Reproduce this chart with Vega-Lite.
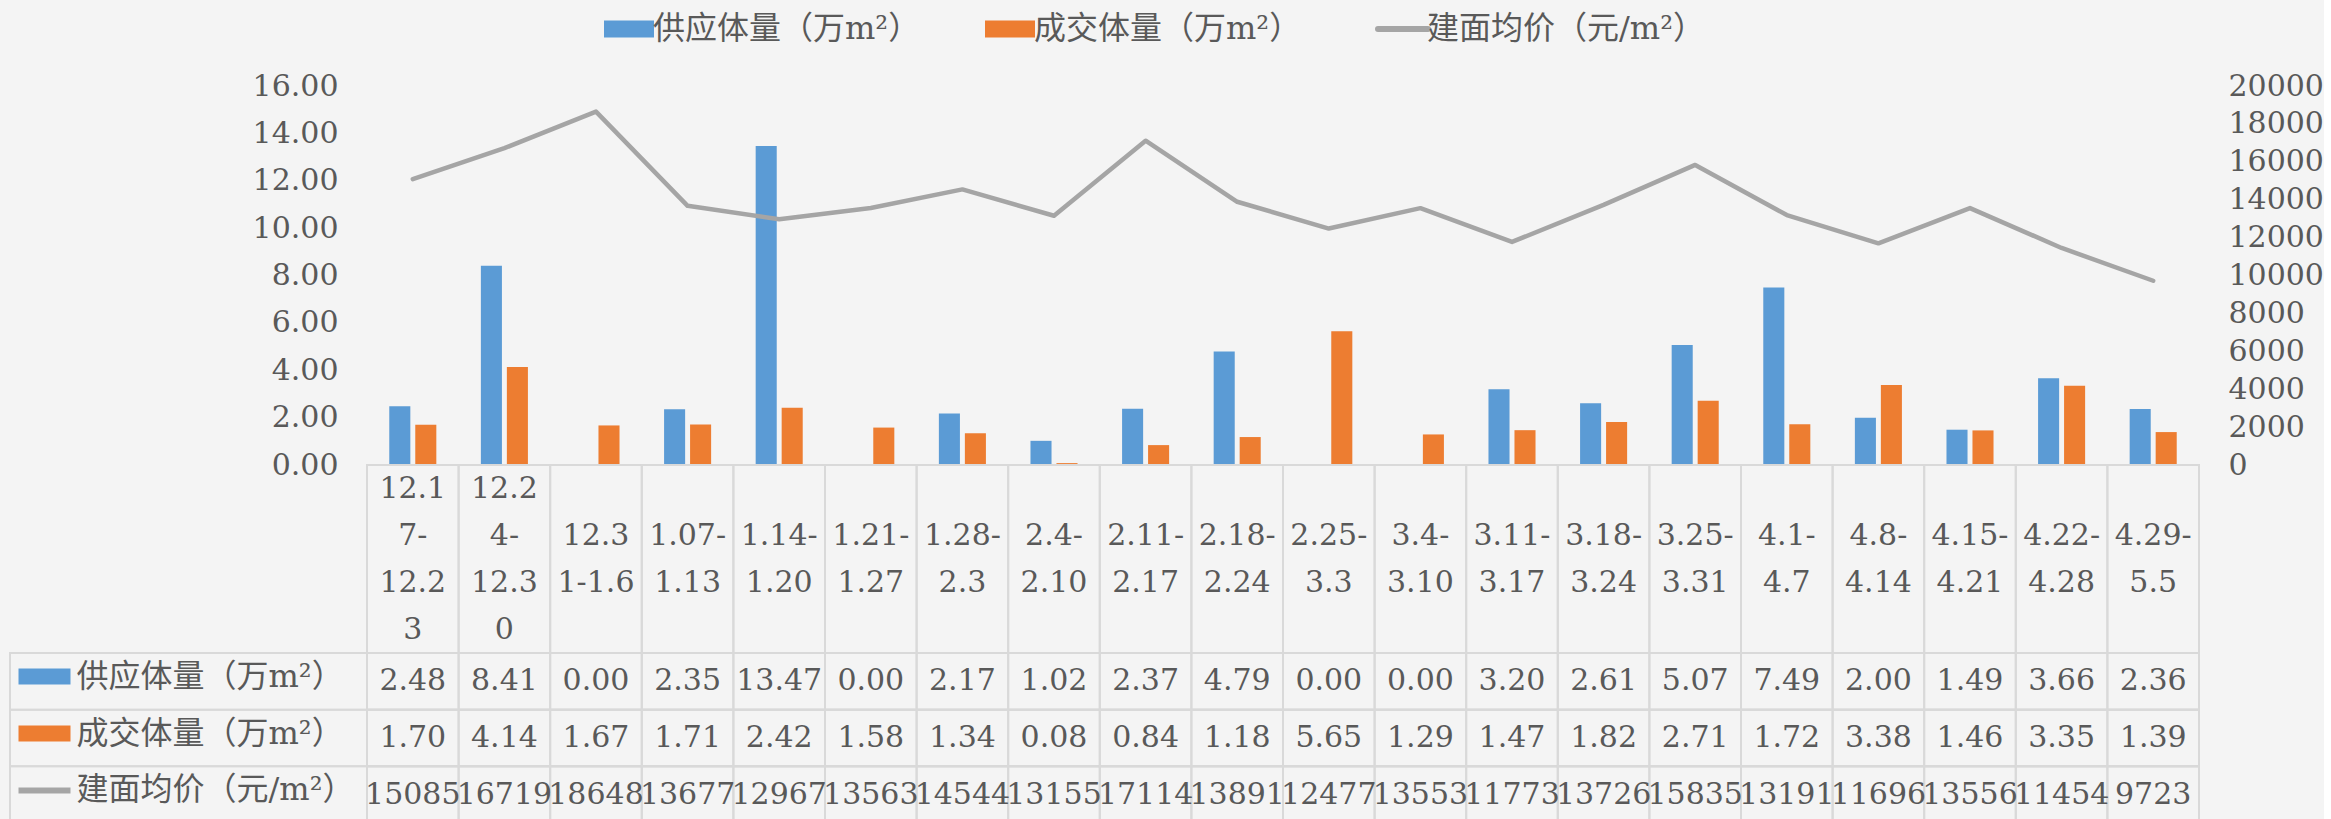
{
  "$schema": "https://vega.github.io/schema/vega-lite/v6.json",
  "background": "#f4f4f4",
  "autosize": {"type": "pad"},
  "padding": {"left": 9, "top": 13, "right": 0, "bottom": 0},
  "config": {
    "view": {"stroke": null},
    "font": "DejaVu Serif",
    "axis": {"labelFont": "DejaVu Serif, Noto Sans CJK SC", "labelColor": "#595959", "labelFontSize": 30},
    "text": {"font": "DejaVu Serif, Noto Sans CJK SC", "fontSize": 30, "color": "#595959"}
  },
  "datasets": {
    "weeks": [
      {"week": "12.17-12.23", "label": "12.1\n7-\n12.2\n3"},
      {"week": "12.24-12.30", "label": "12.2\n4-\n12.3\n0"},
      {"week": "12.31-1.6", "label": "12.3\n1-1.6"},
      {"week": "1.07-1.13", "label": "1.07-\n1.13"},
      {"week": "1.14-1.20", "label": "1.14-\n1.20"},
      {"week": "1.21-1.27", "label": "1.21-\n1.27"},
      {"week": "1.28-2.3", "label": "1.28-\n2.3"},
      {"week": "2.4-2.10", "label": "2.4-\n2.10"},
      {"week": "2.11-2.17", "label": "2.11-\n2.17"},
      {"week": "2.18-2.24", "label": "2.18-\n2.24"},
      {"week": "2.25-3.3", "label": "2.25-\n3.3"},
      {"week": "3.4-3.10", "label": "3.4-\n3.10"},
      {"week": "3.11-3.17", "label": "3.11-\n3.17"},
      {"week": "3.18-3.24", "label": "3.18-\n3.24"},
      {"week": "3.25-3.31", "label": "3.25-\n3.31"},
      {"week": "4.1-4.7", "label": "4.1-\n4.7"},
      {"week": "4.8-4.14", "label": "4.8-\n4.14"},
      {"week": "4.15-4.21", "label": "4.15-\n4.21"},
      {"week": "4.22-4.28", "label": "4.22-\n4.28"},
      {"week": "4.29-5.5", "label": "4.29-\n5.5"}
    ],
    "vals": [
      {"week": "12.17-12.23", "series": "供应体量（万m²）", "value": 2.48},
      {"week": "12.17-12.23", "series": "成交体量（万m²）", "value": 1.70},
      {"week": "12.17-12.23", "series": "建面均价（元/m²）", "value": 15085},
      {"week": "12.24-12.30", "series": "供应体量（万m²）", "value": 8.41},
      {"week": "12.24-12.30", "series": "成交体量（万m²）", "value": 4.14},
      {"week": "12.24-12.30", "series": "建面均价（元/m²）", "value": 16719},
      {"week": "12.31-1.6", "series": "供应体量（万m²）", "value": 0.00},
      {"week": "12.31-1.6", "series": "成交体量（万m²）", "value": 1.67},
      {"week": "12.31-1.6", "series": "建面均价（元/m²）", "value": 18648},
      {"week": "1.07-1.13", "series": "供应体量（万m²）", "value": 2.35},
      {"week": "1.07-1.13", "series": "成交体量（万m²）", "value": 1.71},
      {"week": "1.07-1.13", "series": "建面均价（元/m²）", "value": 13677},
      {"week": "1.14-1.20", "series": "供应体量（万m²）", "value": 13.47},
      {"week": "1.14-1.20", "series": "成交体量（万m²）", "value": 2.42},
      {"week": "1.14-1.20", "series": "建面均价（元/m²）", "value": 12967},
      {"week": "1.21-1.27", "series": "供应体量（万m²）", "value": 0.00},
      {"week": "1.21-1.27", "series": "成交体量（万m²）", "value": 1.58},
      {"week": "1.21-1.27", "series": "建面均价（元/m²）", "value": 13563},
      {"week": "1.28-2.3", "series": "供应体量（万m²）", "value": 2.17},
      {"week": "1.28-2.3", "series": "成交体量（万m²）", "value": 1.34},
      {"week": "1.28-2.3", "series": "建面均价（元/m²）", "value": 14544},
      {"week": "2.4-2.10", "series": "供应体量（万m²）", "value": 1.02},
      {"week": "2.4-2.10", "series": "成交体量（万m²）", "value": 0.08},
      {"week": "2.4-2.10", "series": "建面均价（元/m²）", "value": 13155},
      {"week": "2.11-2.17", "series": "供应体量（万m²）", "value": 2.37},
      {"week": "2.11-2.17", "series": "成交体量（万m²）", "value": 0.84},
      {"week": "2.11-2.17", "series": "建面均价（元/m²）", "value": 17114},
      {"week": "2.18-2.24", "series": "供应体量（万m²）", "value": 4.79},
      {"week": "2.18-2.24", "series": "成交体量（万m²）", "value": 1.18},
      {"week": "2.18-2.24", "series": "建面均价（元/m²）", "value": 13891},
      {"week": "2.25-3.3", "series": "供应体量（万m²）", "value": 0.00},
      {"week": "2.25-3.3", "series": "成交体量（万m²）", "value": 5.65},
      {"week": "2.25-3.3", "series": "建面均价（元/m²）", "value": 12477},
      {"week": "3.4-3.10", "series": "供应体量（万m²）", "value": 0.00},
      {"week": "3.4-3.10", "series": "成交体量（万m²）", "value": 1.29},
      {"week": "3.4-3.10", "series": "建面均价（元/m²）", "value": 13553},
      {"week": "3.11-3.17", "series": "供应体量（万m²）", "value": 3.20},
      {"week": "3.11-3.17", "series": "成交体量（万m²）", "value": 1.47},
      {"week": "3.11-3.17", "series": "建面均价（元/m²）", "value": 11773},
      {"week": "3.18-3.24", "series": "供应体量（万m²）", "value": 2.61},
      {"week": "3.18-3.24", "series": "成交体量（万m²）", "value": 1.82},
      {"week": "3.18-3.24", "series": "建面均价（元/m²）", "value": 13726},
      {"week": "3.25-3.31", "series": "供应体量（万m²）", "value": 5.07},
      {"week": "3.25-3.31", "series": "成交体量（万m²）", "value": 2.71},
      {"week": "3.25-3.31", "series": "建面均价（元/m²）", "value": 15835},
      {"week": "4.1-4.7", "series": "供应体量（万m²）", "value": 7.49},
      {"week": "4.1-4.7", "series": "成交体量（万m²）", "value": 1.72},
      {"week": "4.1-4.7", "series": "建面均价（元/m²）", "value": 13191},
      {"week": "4.8-4.14", "series": "供应体量（万m²）", "value": 2.00},
      {"week": "4.8-4.14", "series": "成交体量（万m²）", "value": 3.38},
      {"week": "4.8-4.14", "series": "建面均价（元/m²）", "value": 11696},
      {"week": "4.15-4.21", "series": "供应体量（万m²）", "value": 1.49},
      {"week": "4.15-4.21", "series": "成交体量（万m²）", "value": 1.46},
      {"week": "4.15-4.21", "series": "建面均价（元/m²）", "value": 13556},
      {"week": "4.22-4.28", "series": "供应体量（万m²）", "value": 3.66},
      {"week": "4.22-4.28", "series": "成交体量（万m²）", "value": 3.35},
      {"week": "4.22-4.28", "series": "建面均价（元/m²）", "value": 11454},
      {"week": "4.29-5.5", "series": "供应体量（万m²）", "value": 2.36},
      {"week": "4.29-5.5", "series": "成交体量（万m²）", "value": 1.39},
      {"week": "4.29-5.5", "series": "建面均价（元/m²）", "value": 9723}
    ]
  },
  "spacing": 0,
  "bounds": "flush",
  "vconcat": [
    {
      "width": 2189,
      "height": 379,
      "data": {"name": "vals"},
      "encoding": {
        "x": {"field": "week", "type": "nominal", "sort": null, "axis": null,
          "scale": {"domain": ["12.17-12.23","12.24-12.30","12.31-1.6","1.07-1.13","1.14-1.20","1.21-1.27","1.28-2.3","2.4-2.10","2.11-2.17","2.18-2.24","2.25-3.3","3.4-3.10","3.11-3.17","3.18-3.24","3.25-3.31","4.1-4.7","4.8-4.14","4.15-4.21","4.22-4.28","4.29-5.5"], "range": [357, 2189], "paddingInner": 0, "paddingOuter": 0}}
      },
      "layer": [
        {
          "transform": [{"filter": "datum.series !== '建面均价（元/m²）'"}],
          "mark": {"type": "bar"},
          "encoding": {
            "xOffset": {"field": "series", "type": "nominal", "scale": {"domain": ["供应体量（万m²）", "成交体量（万m²）"], "paddingInner": 0.19, "paddingOuter": 0.857}},
            "y": {"field": "value", "type": "quantitative", "scale": {"domain": [0, 16], "nice": false},
              "axis": {"orient": "left", "title": null, "values": [0,2,4,6,8,10,12,14,16], "format": ".2f", "domain": false, "ticks": false, "grid": false, "labelPadding": 29, "offset": -357, "labelFont": "DejaVu Serif"}},
            "color": {"field": "series", "type": "nominal",
              "scale": {"domain": ["供应体量（万m²）", "成交体量（万m²）", "建面均价（元/m²）"], "range": ["#5B9BD5", "#ED7D31", "#A5A5A5"]},
              "legend": {
                "orient": "none", "legendX": 603, "legendY": -73, "direction": "horizontal", "title": null,
                "labelFont": "DejaVu Serif, Noto Sans CJK SC", "labelFontSize": 32, "labelColor": "#595959",
                "labelLimit": 500, "labelOffset": 8, "columnPadding": 64, "symbolSize": 2500,
                "symbolType": "M-1,-0.34H1V0.34H-1Z",
                "encode": {
                  "symbols": {
                    "update": {
                      "shape": {"signal": "datum.value === '建面均价（元/m²）' ? 'stroke' : 'M-1,-0.34H1V0.34H-1Z'"},
                      "fill": {"scale": "color", "field": "value"},
                      "stroke": {"scale": "color", "field": "value"},
                      "strokeWidth": {"signal": "datum.value === '建面均价（元/m²）' ? 6 : 0"},
                      "strokeCap": {"value": "round"},
                      "opacity": {"value": 1},
                      "fillOpacity": {"value": 1}
                    }
                  }
                }
              }
            }
          }
        },
        {
          "transform": [{"filter": "datum.series === '建面均价（元/m²）'"}],
          "mark": {"type": "line", "strokeWidth": 4.5, "strokeJoin": "round", "strokeCap": "round"},
          "encoding": {
            "y": {"field": "value", "type": "quantitative", "scale": {"domain": [0, 20000], "nice": false},
              "axis": {"orient": "right", "title": null, "values": [0,2000,4000,6000,8000,10000,12000,14000,16000,18000,20000], "format": "d", "domain": false, "ticks": false, "grid": false, "labelPadding": 29, "labelFont": "DejaVu Serif"}},
            "color": {"field": "series", "type": "nominal"}
          }
        }
      ],
      "resolve": {"scale": {"y": "independent"}}
    },
    {
      "width": 2189,
      "height": 188,
      "data": {"name": "weeks"},
      "encoding": {
        "x": {"field": "week", "type": "nominal", "sort": null, "axis": null,
          "scale": {"domain": ["12.17-12.23","12.24-12.30","12.31-1.6","1.07-1.13","1.14-1.20","1.21-1.27","1.28-2.3","2.4-2.10","2.11-2.17","2.18-2.24","2.25-3.3","3.4-3.10","3.11-3.17","3.18-3.24","3.25-3.31","4.1-4.7","4.8-4.14","4.15-4.21","4.22-4.28","4.29-5.5"], "range": [357, 2189], "paddingInner": 0, "paddingOuter": 0}}
      },
      "layer": [
        {"mark": {"type": "bar", "fill": "transparent", "stroke": "#d9d9d9", "strokeWidth": 2}},
        {"mark": {"type": "text", "lineBreak": "\n", "lineHeight": 47, "baseline": "middle", "font": "DejaVu Serif",
           "dy": {"expr": "-(length(split(datum.label, '\\n')) - 1) * 23.5"}},
         "encoding": {"text": {"field": "label", "type": "nominal"}}}
      ]
    },
    {
      "width": 2189,
      "height": 170,
      "data": {"name": "vals"},
      "transform": [{"calculate": "datum.series === '建面均价（元/m²）' ? format(datum.value, 'd') : format(datum.value, '.2f')", "as": "txt"}],
      "encoding": {
        "y": {"field": "series", "type": "nominal", "sort": null,
          "scale": {"domain": ["供应体量（万m²）", "成交体量（万m²）", "建面均价（元/m²）"], "paddingInner": 0, "paddingOuter": 0},
          "axis": {"orient": "left", "title": null, "domain": false, "offset": -60, "ticks": true, "tickSize": 52, "tickOffset": -5,
            "tickCap": "butt",
            "tickColor": {"condition": [{"test": "datum.value === '供应体量（万m²）'", "value": "#5B9BD5"}, {"test": "datum.value === '成交体量（万m²）'", "value": "#ED7D31"}], "value": "#A5A5A5"},
            "tickWidth": {"condition": {"test": "datum.value === '建面均价（元/m²）'", "value": 6}, "value": 16},
            "labelAlign": "left", "labelPadding": -58, "labelLimit": 500, "labelFontSize": 32, "grid": false}}
      },
      "layer": [
        {"transform": [{"filter": "datum.week === '12.17-12.23'"}],
         "mark": {"type": "bar", "fill": "transparent", "stroke": "#d9d9d9", "strokeWidth": 2}},
        {"mark": {"type": "bar", "fill": "transparent", "stroke": "#d9d9d9", "strokeWidth": 2},
         "encoding": {"x": {"field": "week", "type": "nominal", "sort": null, "axis": null,
           "scale": {"domain": ["12.17-12.23","12.24-12.30","12.31-1.6","1.07-1.13","1.14-1.20","1.21-1.27","1.28-2.3","2.4-2.10","2.11-2.17","2.18-2.24","2.25-3.3","3.4-3.10","3.11-3.17","3.18-3.24","3.25-3.31","4.1-4.7","4.8-4.14","4.15-4.21","4.22-4.28","4.29-5.5"], "range": [357, 2189], "paddingInner": 0, "paddingOuter": 0}}}},
        {"mark": {"type": "text", "baseline": "middle", "font": "DejaVu Serif"},
         "encoding": {"x": {"field": "week", "type": "nominal", "sort": null, "axis": null},
           "text": {"field": "txt", "type": "nominal"}}}
      ]
    }
  ]
}
